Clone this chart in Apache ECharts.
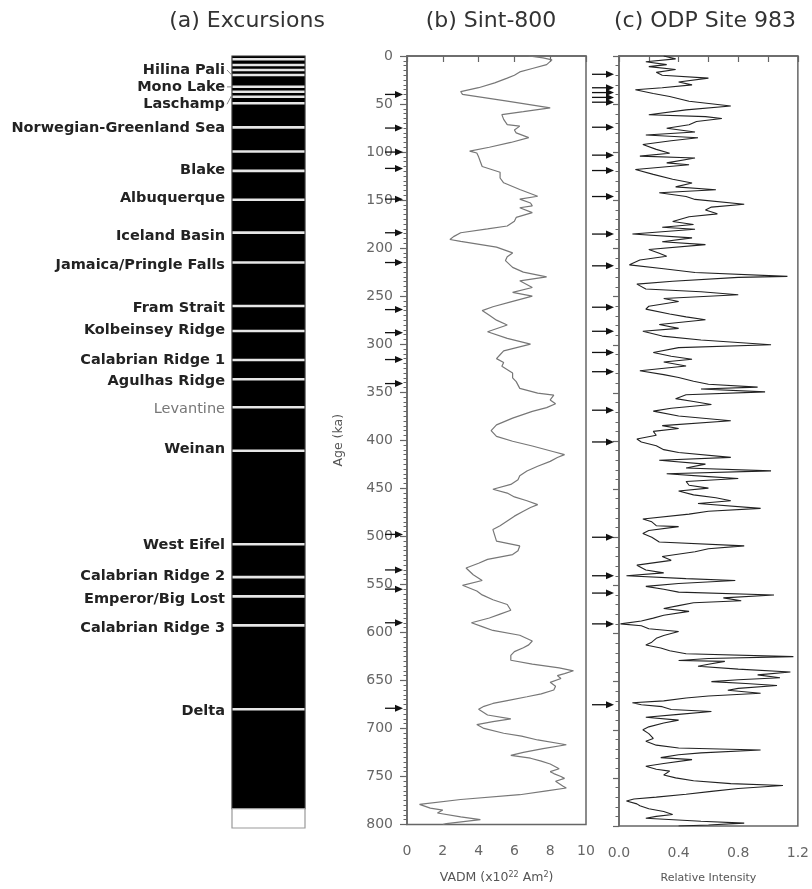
<!DOCTYPE html>
<html><head><meta charset="utf-8">
<script src="https://cdn.jsdelivr.net/npm/echarts@6/dist/echarts.min.js"></script>
<style>html,body{margin:0;padding:0;background:#fff}#main{width:812px;height:889px}</style>
</head><body><div id="main"></div>
<script>
// ---------- DATA ----------
const panelTitles = ['(a) Excursions', '(b) Sint-800', '(c) ODP Site 983'];

const excursionNames = ['Hilina Pali','Mono Lake','Laschamp','Norwegian-Greenland Sea','Blake','Albuquerque',
  'Iceland Basin','Jamaica/Pringle Falls','Fram Strait','Kolbeinsey Ridge','Calabrian Ridge 1','Agulhas Ridge',
  'Levantine','Weinan','West Eifel','Calabrian Ridge 2','Emperor/Big Lost','Calabrian Ridge 3','Delta'];
const excursionLabelAges = [14.5,32,50,74.6,118,147,186.5,216.6,261,284,315,337,366,408,507,539,563,593,679];
const excursionLeaderAges = [20,32,40,null,null,null,null,null,null,null,null,null,null,null,null,null,null,null,null];
const excursionMuted = [0,0,0,0,0,0,0,0,0,0,0,0,1,0,0,0,0,0,0];
const excursionBandAges = [3.4,9.3,14.5,19.7,31.8,37,42.2,49,74,99,119,149,183,214,259,285,315,335,364,409,506,540,560,590,677];
const polarityStart = [0, 780];
const polarityEnd = [780, 800];
const polarityNormal = [1, 0];

const arrowAgesB = [40,75,100,117,149,184,215,264,288,316,341,498,535,555,590,679];
const arrowAgesC = [19,33,38,43,48,74,103,119,146,185,218,261,286,308,328,368,401,500,540,558,590,674];

const sintAges = [0,2,4,9,13,16.6,20,23,28,33,37,40,47,54,58,61,66,71.5,73,77,80,85,90,95,99,101,105,110,115,121,127,132,139,146,149,153,156,158,163,168,172,177,180,184,188,191,193,199,205,209,213,220,225,230,234,241,246,250,256,261,265,270,275,280,287,294,300,307,311,315,319,323,330,335,339,346,351,353,358,362,366,370,377,384,390,396,401,406,412,415,418,422,427,432,437,441,446,451,455,459,463,467,470,474,479,484,489,493,499,505,510,515,519,524,528,533,540,546,551,557,561,566,571,577,581,585,590,594,598,603,609,613,616,620,624,629,633,637,640,643,645,648,652,656,660,664,667,671,674,677,680,686,690,693,696,700,705,708,712,717,721,725,728,731,734,737,742,745,747,750,752,755,757,760,762,765,769,774,779,783,785,788,792,795,799,800];
const sintVadm = [6.8,7.6,8.1,7.8,7.0,6.3,6.0,5.6,4.9,4.0,3.0,3.1,5.6,8.0,6.5,5.3,5.4,5.6,6.3,6.0,6.1,6.8,5.8,4.6,3.5,3.9,4.0,4.1,4.2,5.2,5.2,5.4,6.3,7.3,6.3,6.9,7.0,6.3,7.0,6.1,6.0,5.6,4.5,3.0,2.6,2.4,3.0,5.0,5.9,5.6,5.5,5.9,6.5,7.8,6.3,7.0,5.9,7.0,5.8,4.8,4.2,4.6,5.0,5.6,4.5,5.6,6.9,5.4,5.2,5.0,5.4,5.3,5.9,5.9,6.1,6.3,7.3,8.2,8.0,8.3,7.8,7.0,5.9,5.0,4.7,5.0,5.9,7.0,8.2,8.8,8.4,8.0,7.3,6.7,6.3,6.2,5.8,4.8,5.6,6.0,6.7,7.3,6.9,6.5,6.0,5.6,5.2,4.8,4.9,5.0,6.3,6.2,5.9,4.5,4.0,3.3,3.7,4.2,3.1,3.9,4.2,4.8,5.6,5.8,5.2,4.6,3.6,4.2,4.8,6.3,7.0,6.8,6.5,6.0,5.8,5.8,7.0,8.5,9.3,8.8,8.4,8.6,8.0,8.3,8.2,7.5,6.7,5.6,4.8,4.3,4.0,4.5,5.8,4.8,3.9,4.3,5.4,6.4,7.3,8.9,7.6,6.5,5.8,6.9,7.5,8.0,8.5,8.0,8.2,8.6,8.8,8.3,8.2,8.7,8.9,7.8,6.3,3.0,0.7,1.3,2.0,1.7,3.0,4.1,2.2,2.0];

const odpAges = [0,3,6,9,11,14,17,20,23,27,30,33,35,39,42,47,52,56,61,63,65,68,71.5,75,79,82,85,88,92,97,101,104,106,111,113,118,123,128,132,136,139,142,146,149,154,157,160,164,167,172,175,178,180,185,189,193,196,201,205,208,212,217,221,225,229,230,234,237,242,245,248,252,255,260,263,268,271,274,279,283,286,291,295,300,303,308,312,315,318,322,327,331,334,338,341,344,346,349,352,356,359,362,366,369,374,379,384,387,390,394,398,401,405,409,412,417,420,424,428,431,434,437,439,442,446,449,452,456,459,462,465,470,473,476,481,484,488,489,493,496,500,505,509,512,515,520,524,529,534,537,540,543,545,548,551,554,557,560,563,566,568,571,574,577,581,584,587,590,592,595,598,602,605,609,612,615,618,621,624,626,628,629,632,634,637,640,643,646,648,650,652,654,657,659,662,665,667,670,672,674,676,679,681,684,687,690,693,697,700,704,709,712,716,719,721,724,726,729,731,735,738,741,743,747,750,753,756,758,761,764,767,770,772,774,777,779,782,785,788,790,792,795,797,799,800];
const odpRel = [0.30,0.38,0.18,0.32,0.20,0.38,0.25,0.29,0.60,0.40,0.49,0.29,0.11,0.23,0.34,0.47,0.75,0.45,0.20,0.58,0.69,0.52,0.47,0.32,0.51,0.18,0.53,0.35,0.16,0.25,0.34,0.14,0.51,0.32,0.47,0.11,0.23,0.36,0.49,0.38,0.65,0.27,0.45,0.51,0.84,0.62,0.58,0.66,0.47,0.36,0.50,0.29,0.51,0.09,0.49,0.29,0.58,0.20,0.27,0.32,0.14,0.07,0.30,0.51,1.13,0.80,0.36,0.12,0.18,0.55,0.80,0.30,0.40,0.20,0.18,0.34,0.45,0.58,0.27,0.40,0.16,0.29,0.55,1.02,0.40,0.23,0.35,0.49,0.30,0.45,0.14,0.30,0.40,0.50,0.60,0.93,0.55,0.98,0.45,0.38,0.50,0.62,0.35,0.23,0.40,0.75,0.29,0.40,0.23,0.25,0.12,0.15,0.25,0.30,0.40,0.75,0.27,0.58,0.45,1.02,0.32,0.60,0.80,0.45,0.47,0.60,0.40,0.50,0.65,0.75,0.53,0.95,0.60,0.47,0.16,0.22,0.25,0.40,0.20,0.16,0.22,0.27,0.84,0.60,0.51,0.29,0.35,0.12,0.18,0.30,0.05,0.45,0.78,0.40,0.18,0.30,0.40,1.04,0.70,0.82,0.50,0.40,0.30,0.47,0.30,0.23,0.15,0.01,0.15,0.20,0.40,0.30,0.25,0.22,0.18,0.28,0.34,0.45,1.17,0.60,0.40,0.71,0.60,0.53,0.80,1.15,0.93,1.08,0.80,0.62,0.85,1.06,0.80,0.73,0.95,0.60,0.45,0.30,0.09,0.15,0.29,0.35,0.62,0.40,0.18,0.40,0.30,0.20,0.16,0.20,0.23,0.18,0.25,0.40,0.95,0.55,0.40,0.28,0.49,0.30,0.18,0.25,0.34,0.30,0.38,0.50,0.75,1.10,0.80,0.62,0.45,0.25,0.10,0.05,0.12,0.14,0.20,0.30,0.36,0.25,0.18,0.55,0.84,0.60,0.40];

// ---------- CHART ----------
const FONT = 'DejaVu Sans';
const AX = '#666';
const chart = echarts.init(document.getElementById('main'));

const zip = (a, b) => a.map((v, i) => [b[i], v]);

function arrowRender(tipOff, tailOff) {
  return function (params, api) {
    const p = api.coord([0, api.value(0)]);
    const tip = p[0] - tipOff, y = p[1];
    return { type: 'group', children: [
      { type: 'line', shape: { x1: p[0] - tailOff, y1: y, x2: tip - 5, y2: y }, style: { stroke: '#111', lineWidth: 1.3 } },
      { type: 'polygon', shape: { points: [[tip, y], [tip - 8, y - 3.5], [tip - 8, y + 3.5]] }, style: { fill: '#111' } }
    ]};
  };
}

const option = {
  animation: false,
  title: panelTitles.map((t, i) => ({
    text: t, left: [242, 486, 700][i], top: 5, textAlign: 'center',
    textStyle: { fontSize: 22, fontWeight: 'normal', color: '#333', fontFamily: FONT }
  })),
  grid: [
    { left: 232, top: 56, width: 73, height: 772, show: false },
    { left: 407, top: 56, width: 179, height: 772, show: true, borderColor: AX, borderWidth: 1.5, backgroundColor: 'transparent' },
    { left: 619, top: 56, width: 182, height: 772, show: true, borderColor: AX, borderWidth: 1.5, backgroundColor: 'transparent' }
  ],
  xAxis: [
    { gridIndex: 0, type: 'value', min: 0, max: 1, show: false },
    { gridIndex: 1, type: 'value', min: 0, max: 10, interval: 2, position: 'bottom',
      axisLine: { lineStyle: { color: AX, width: 1.5 } },
      axisTick: { length: 6, lineStyle: { color: AX, width: 1.2 } },
      splitLine: { show: false },
      axisLabel: { fontSize: 14, color: '#666', margin: 20, fontFamily: FONT },
      name: 'VADM (x10{s|22} Am{s|2})', nameLocation: 'middle', nameGap: 46,
      nameTextStyle: { fontSize: 12.5, color: '#555', fontFamily: FONT,
        rich: { s: { fontSize: 8, verticalAlign: 'top', color: '#555', fontFamily: FONT, padding: [0, 0, 6, 0] } } }
    },
    { gridIndex: 2, type: 'value', min: 0, max: 1.2, interval: 0.2, position: 'bottom',
      axisLine: { lineStyle: { color: AX, width: 1.5 } },
      axisTick: { length: 6, lineStyle: { color: AX, width: 1.2 } },
      splitLine: { show: false },
      axisLabel: { fontSize: 14, color: '#666', margin: 20, fontFamily: FONT,
        formatter: v => (Math.round(v * 10) % 4 === 0 ? v.toFixed(1) : '') },
      name: 'Relative Intensity', nameLocation: 'middle', nameGap: 47,
      nameTextStyle: { fontSize: 11, color: '#555', fontFamily: FONT }
    }
  ],
  yAxis: [
    { gridIndex: 0, type: 'value', min: 0, max: 800, inverse: true, show: false },
    { gridIndex: 1, type: 'value', min: 0, max: 800, interval: 50, inverse: true,
      axisLine: { show: true, lineStyle: { color: AX, width: 1.5 } },
      axisTick: { show: true, length: 7, lineStyle: { color: AX, width: 1.2 } },
      minorTick: { show: true, splitNumber: 10, length: 3.5, lineStyle: { color: AX, width: 1 } },
      splitLine: { show: false },
      axisLabel: { fontSize: 14, color: '#666', margin: 14, fontFamily: FONT },
      name: 'Age (ka)', nameLocation: 'middle', nameGap: 62, nameRotate: 90,
      nameTextStyle: { fontSize: 12.5, color: '#555', fontFamily: FONT }
    },
    { gridIndex: 2, type: 'value', min: 0, max: 800, interval: 50, inverse: true,
      axisLine: { show: true, lineStyle: { color: AX, width: 1.5 } },
      axisTick: { show: true, length: 6, lineStyle: { color: AX, width: 1.2 } },
      minorTick: { show: true, splitNumber: 5, length: 3.5, lineStyle: { color: AX, width: 1 } },
      splitLine: { show: false },
      axisLabel: { show: false }
    }
  ],
  series: [
    // polarity column
    { type: 'custom', xAxisIndex: 0, yAxisIndex: 0, silent: true,
      data: polarityStart.map((s, i) => [s, polarityEnd[i], polarityNormal[i]]),
      renderItem: (params, api) => {
        const a = api.coord([0, api.value(0)]), b = api.coord([1, api.value(1)]);
        const normal = api.value(2) === 1;
        return { type: 'rect', shape: { x: a[0], y: a[1], width: b[0] - a[0], height: b[1] - a[1] },
          style: { fill: normal ? '#000' : '#fff', stroke: normal ? '#333' : '#999', lineWidth: 1.2 } };
      }
    },
    // excursion bands
    { type: 'custom', xAxisIndex: 0, yAxisIndex: 0, silent: true,
      data: excursionBandAges.map(a => [a]),
      renderItem: (params, api) => {
        const a = api.coord([0, api.value(0)]), b = api.coord([1, api.value(0)]);
        return { type: 'rect', shape: { x: a[0] + 0.5, y: a[1] - 1.3, width: b[0] - a[0] - 1, height: 2.6 },
          style: { fill: '#e6e6e6' } };
      }
    },
    // excursion labels
    { type: 'custom', xAxisIndex: 0, yAxisIndex: 0, silent: true,
      data: excursionLabelAges.map((a, i) => [a, i]),
      renderItem: (params, api) => {
        const i = api.value(1);
        const p = api.coord([0, api.value(0)]);
        const children = [{ type: 'text', x: p[0] - 7, y: p[1],
          style: { text: excursionNames[i], align: 'right', verticalAlign: 'middle',
            fontSize: 14.5, fontFamily: FONT, fontWeight: excursionMuted[i] ? 'normal' : 'bold',
            fill: excursionMuted[i] ? '#777' : '#222' } }];
        if (excursionLeaderAges[i] != null) {
          const q = api.coord([0, excursionLeaderAges[i]]);
          children.push({ type: 'line', shape: { x1: p[0] - 5, y1: p[1], x2: q[0], y2: q[1] },
            style: { stroke: '#888', lineWidth: 1 } });
        }
        return { type: 'group', children };
      }
    },
    // Sint-800
    { type: 'line', xAxisIndex: 1, yAxisIndex: 1, data: zip(sintAges, sintVadm), showSymbol: false,
      lineStyle: { color: '#777', width: 1.2 }, silent: true },
    // ODP 983
    { type: 'line', xAxisIndex: 2, yAxisIndex: 2, data: zip(odpAges, odpRel), showSymbol: false,
      lineStyle: { color: '#222', width: 1.1 }, silent: true },
    // arrows
    { type: 'custom', xAxisIndex: 1, yAxisIndex: 1, silent: true, data: arrowAgesB.map(a => [a]),
      renderItem: arrowRender(4, 22) },
    { type: 'custom', xAxisIndex: 2, yAxisIndex: 2, silent: true, data: arrowAgesC.map(a => [a]),
      renderItem: arrowRender(5, 27) }
  ]
};
chart.setOption(option);
</script></body></html>
